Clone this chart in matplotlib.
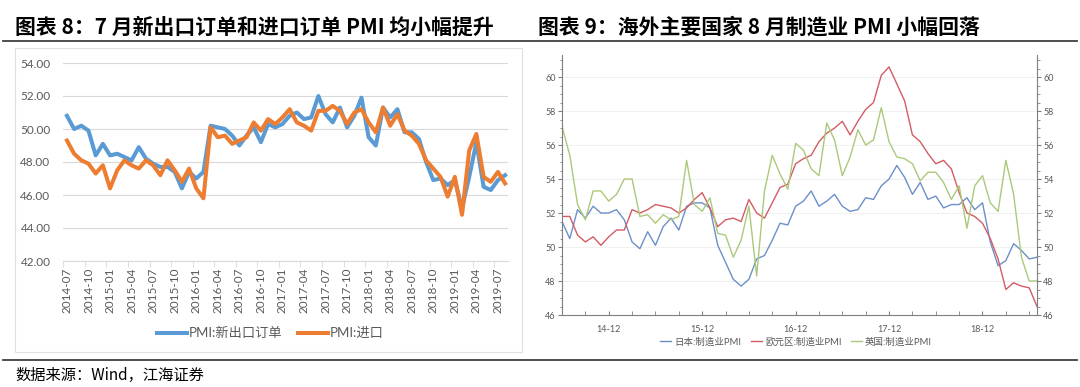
import matplotlib
matplotlib.use('Agg')
import matplotlib.pyplot as plt
from matplotlib.lines import Line2D
from matplotlib.patches import Rectangle
from matplotlib.ticker import MultipleLocator, FixedLocator
import pandas as pd

plt.rcParams['font.family'] = ['Lato', 'Noto Sans CJK SC', 'DejaVu Sans']

# 图表8：中国 PMI 分项，2014-07 ~ 2019-08
cn_months = pd.period_range('2014-07', '2019-08', freq='M').strftime('%Y-%m').tolist()
new_export = [50.8, 50.0, 50.2, 49.9, 48.4, 49.1,
              48.4, 48.5, 48.3, 48.1, 48.9, 48.2, 47.9, 47.7, 47.7, 47.4, 46.4, 47.4,
              47.0, 47.4, 50.2, 50.1, 50.0, 49.6, 49.0, 49.6, 50.1, 49.2, 50.3, 50.1,
              50.3, 50.8, 51.0, 50.6, 50.7, 52.0, 50.9, 50.4, 51.3, 50.1, 50.8, 51.9,
              49.5, 49.0, 51.3, 50.7, 51.2, 49.8, 49.8, 49.4, 48.0, 46.9, 47.0, 46.6,
              46.9, 45.2, 47.1, 49.2, 46.5, 46.3, 46.9, 47.2]
imports = [49.3, 48.5, 48.1, 47.9, 47.3, 47.8,
           46.4, 47.5, 48.1, 47.8, 47.6, 48.1, 47.8, 47.2, 48.1, 47.5, 46.8, 47.6,
           46.4, 45.8, 50.1, 49.5, 49.6, 49.1, 49.3, 49.5, 50.4, 49.9, 50.6, 50.3,
           50.7, 51.2, 50.4, 50.2, 49.9, 51.1, 51.1, 51.4, 51.1, 50.3, 51.0, 51.2,
           50.4, 49.8, 51.3, 50.2, 50.9, 49.9, 49.6, 49.1, 48.1, 47.6, 47.1, 45.9,
           47.1, 44.8, 48.7, 49.7, 47.1, 46.8, 47.4, 46.7]
cn_yticks = [42, 44, 46, 48, 50, 52, 54]

# 图表9：海外制造业 PMI，2014-06 ~ 2019-07
gl_months = pd.period_range('2014-06', '2019-07', freq='M').strftime('%y-%m').tolist()
japan = [51.5, 50.5, 52.2, 51.7, 52.4, 52.0, 52.0,
         52.2, 51.6, 50.3, 49.9, 50.9, 50.1, 51.2, 51.7, 51.0, 52.4, 52.6, 52.6,
         52.3, 50.1, 49.1, 48.1, 47.7, 48.1, 49.3, 49.5, 50.4, 51.4, 51.3, 52.4,
         52.7, 53.3, 52.4, 52.7, 53.1, 52.4, 52.1, 52.2, 52.9, 52.8, 53.6, 54.0,
         54.8, 54.1, 53.1, 53.8, 52.8, 53.0, 52.3, 52.5, 52.5, 52.9, 52.2, 52.6,
         50.3, 48.9, 49.2, 50.2, 49.8, 49.3, 49.4]
eurozone = [51.8, 51.8, 50.7, 50.3, 50.6, 50.1, 50.6,
            51.0, 51.0, 52.2, 52.0, 52.2, 52.5, 52.4, 52.3, 52.0, 52.3, 52.8, 53.2,
            52.3, 51.2, 51.6, 51.7, 51.5, 52.8, 52.0, 51.7, 52.6, 53.5, 53.7, 54.9,
            55.2, 55.4, 56.2, 56.7, 57.0, 57.4, 56.6, 57.4, 58.1, 58.5, 60.1, 60.6,
            59.6, 58.6, 56.6, 56.2, 55.5, 54.9, 55.1, 54.6, 53.2, 52.0, 51.8, 51.4,
            50.5, 49.3, 47.5, 47.9, 47.7, 47.6, 46.5]
uk = [57.1, 55.4, 52.5, 51.6, 53.3, 53.3, 52.7,
      53.1, 54.0, 54.0, 51.8, 51.9, 51.4, 51.9, 51.6, 51.8, 55.1, 52.5, 52.1,
      52.9, 50.8, 50.7, 49.4, 50.4, 52.4, 48.3, 53.3, 55.4, 54.3, 53.4, 56.1,
      55.7, 54.6, 54.2, 57.3, 56.3, 54.2, 55.3, 56.9, 56.0, 56.3, 58.2, 56.2,
      55.3, 55.2, 54.9, 53.9, 54.4, 54.4, 53.8, 52.8, 53.6, 51.1, 53.6, 54.2,
      52.6, 52.1, 55.1, 53.1, 49.4, 48.0, 48.0]
gl_yticks = [46, 48, 50, 52, 54, 56, 58, 60]

W, H = 1080, 387


def px_box(l, t, r, b):
    """像素坐标 -> figure 坐标 [left, bottom, width, height]"""
    return [l / W, 1 - b / H, (r - l) / W, (b - t) / H]


def fx(x):
    return x / W


def fy(y):
    return 1 - y / H


fig = plt.figure(figsize=(W / 100, H / 100), dpi=100)

# 标题、分隔线、数据来源
title_font = ['Noto Sans CJK SC', 'DejaVu Sans']
fig.text(fx(15), fy(27), '图表 8：7 月新出口订单和进口订单 PMI 均小幅提升',
         fontsize=15, fontweight='bold', family=title_font, va='center', ha='left')
fig.text(fx(538), fy(27), '图表 9：海外主要国家 8 月制造业 PMI 小幅回落',
         fontsize=15, fontweight='bold', family=title_font, va='center', ha='left')
fig.add_artist(Line2D([fx(3), fx(1077)], [fy(41), fy(41)], color='#404040', lw=1.3))
fig.add_artist(Line2D([fx(3), fx(1077)], [fy(359.5), fy(359.5)], color='#404040', lw=1.3))
fig.text(fx(15), fy(375), '数据来源：Wind，江海证券', fontsize=11,
         family=title_font, va='center', ha='left')

# 左图外框
fig.add_artist(Rectangle((fx(15), fy(352)), fx(522) - fx(15), fy(48) - fy(352),
                         transform=fig.transFigure, fill=False,
                         edgecolor='#e0e0e0', lw=0.8))

# ---------------- 图表8 ----------------
ax1 = fig.add_axes(px_box(63, 63, 508, 261))
idx = list(range(len(cn_months)))
ax1.plot(idx, new_export, color='#5B9BD5', lw=2.9, label='PMI:新出口订单', solid_joinstyle='round')
ax1.plot(idx, imports, color='#ED7D31', lw=2.9, label='PMI:进口', solid_joinstyle='round')
ax1.set_xlim(-0.55, 61.4)
ax1.set_ylim(42, 54)
ax1.set_yticks(cn_yticks)
ax1.set_yticklabels(['%.2f' % v for v in cn_yticks])
ax1.yaxis.grid(True, color='#d9d9d9', lw=0.8)
ax1.set_axisbelow(True)
for s in ['top', 'right', 'left']:
    ax1.spines[s].set_visible(False)
ax1.spines['bottom'].set_color('#d9d9d9')
ax1.set_xticks(idx[::3])
ax1.set_xticklabels(cn_months[::3], rotation=90)
ax1.xaxis.set_minor_locator(FixedLocator([i - 0.5 for i in idx[::3]]))
ax1.tick_params(axis='x', which='major', length=0, pad=5, labelsize=8.5, labelcolor='#595959')
ax1.tick_params(axis='x', which='minor', length=4, color='#d9d9d9')
ax1.tick_params(axis='y', length=0, pad=9, labelsize=8.5, labelcolor='#595959')

fig.legend(*ax1.get_legend_handles_labels(), loc='center',
           bbox_to_anchor=(fx(270), fy(333)), ncol=2, frameon=False,
           handlelength=2.3, handletextpad=0.1, columnspacing=1.2,
           fontsize=9.5, labelcolor='#595959')

# ---------------- 图表9 ----------------
ax2 = fig.add_axes(px_box(562, 55, 1037, 315))
gidx = list(range(len(gl_months)))
ax2.plot(gidx, japan, color='#6d8fc9', lw=1.0, label='日本:制造业PMI')
ax2.plot(gidx, eurozone, color='#d25c63', lw=1.0, label='欧元区:制造业PMI')
ax2.plot(gidx, uk, color='#abc97a', lw=1.0, label='英国:制造业PMI')
ax2.set_xlim(0, 61)
ax2.set_ylim(46, 61.3)
ax2.set_yticks(gl_yticks)
ax2.yaxis.set_minor_locator(MultipleLocator(0.5))
ax2.yaxis.grid(True, color='#f0f0f0', lw=0.8)
ax2.set_axisbelow(True)
ax2.spines['top'].set_visible(False)
for s in ['left', 'right', 'bottom']:
    ax2.spines[s].set_color('#7f7f7f')
    ax2.spines[s].set_linewidth(0.8)
dec_idx = [i for i, m in enumerate(gl_months) if m.endswith('-12')]
ax2.set_xticks(dec_idx)
ax2.set_xticklabels([gl_months[i] for i in dec_idx])
ax2.xaxis.set_minor_locator(FixedLocator(gidx[::3]))
ax2.tick_params(axis='y', which='both', left=True, right=True,
                labelleft=True, labelright=True, direction='out',
                color='#7f7f7f', labelsize=6.5, labelcolor='#595959', pad=1.5)
ax2.tick_params(axis='y', which='major', length=3)
ax2.tick_params(axis='y', which='minor', length=1.8)
ax2.tick_params(axis='x', which='both', direction='in', length=3,
                color='#7f7f7f', labelsize=6.5, labelcolor='#595959', pad=7)

fig.legend(*ax2.get_legend_handles_labels(), loc='center',
           bbox_to_anchor=(fx(796), fy(342)), ncol=3, frameon=False,
           handlelength=1.2, handletextpad=0.3, columnspacing=1.0,
           fontsize=6.8, labelcolor='#595959')

fig.savefig('out.png', dpi=100)
